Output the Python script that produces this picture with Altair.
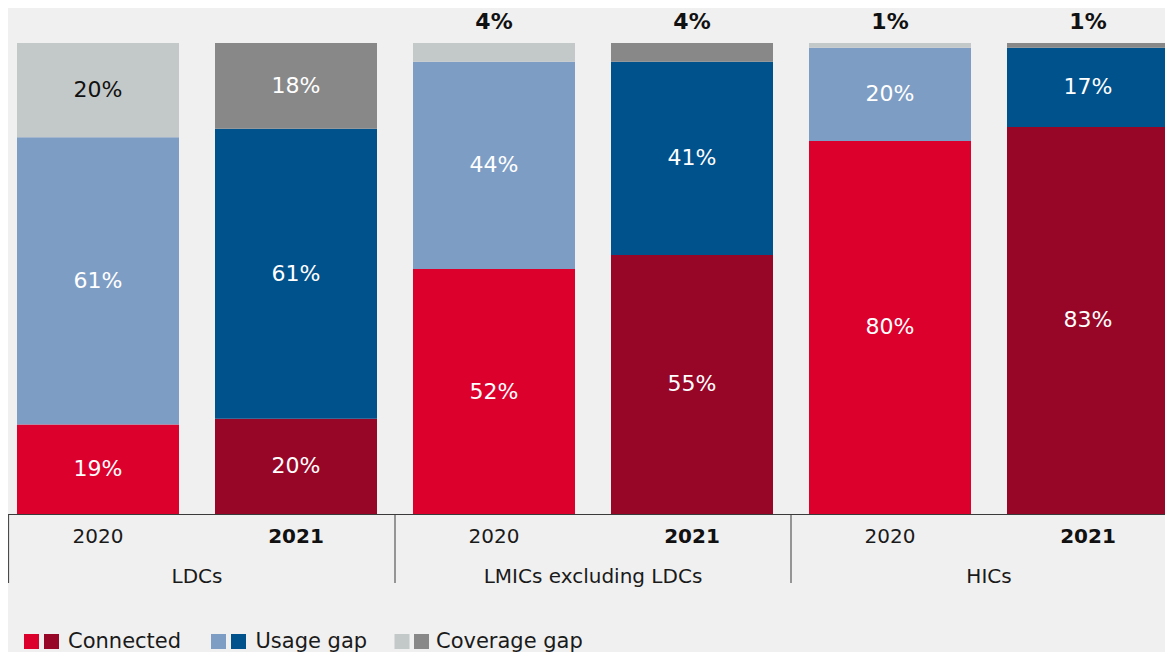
import altair as alt
import pandas as pd

# ---------------- data ----------------
groups = ["LDCs", "LDCs", "LMICs excluding LDCs", "LMICs excluding LDCs", "HICs", "HICs"]
years = ["2020", "2021", "2020", "2021", "2020", "2021"]
connected = [19, 20, 52, 55, 80, 83]
usage_gap = [61, 61, 44, 41, 20, 17]
coverage_gap = [20, 18, 4, 4, 1, 1]
segments = ["Connected", "Usage gap", "Coverage gap"]
colors_2020 = ["#dc002d", "#7e9dc4", "#c3c8c8"]
colors_2021 = ["#970627", "#00528c", "#888888"]

rows = []
for i, (g, yr) in enumerate(zip(groups, years)):
    for k, (seg, vals) in enumerate(zip(segments, [connected, usage_gap, coverage_gap])):
        rows.append(dict(idx=i, group=g, year=yr, segment=seg, order=k,
                         value=vals[i], key=f"{seg} {yr}"))
df = pd.DataFrame(rows)
bars_df = pd.DataFrame({"idx": list(range(len(groups))), "group": groups, "year": years})

color_domain = [f"{s} 2020" for s in segments] + [f"{s} 2021" for s in segments]
color_range = colors_2020 + colors_2021

# ---------------- layout ----------------
FONT = "DejaVu Sans"
STEP = 198.0          # px per bar slot
W = 1157
H = 471
HALF = 81 / STEP      # half bar width in slot units
x_min = -90 / STEP
x_max = x_min + W / STEP

xscale = alt.Scale(domain=[x_min, x_max], nice=False, zero=False)
xaxis = alt.Axis(domain=True, domainColor="#3a3a3a", domainWidth=1, ticks=False,
                 labels=False, grid=False, title=None)

base = (
    alt.Chart(df)
    .transform_stack(stack="value", groupby=["idx"], as_=["y0", "y1"],
                     sort=[alt.SortField("order")], offset="normalize")
    .transform_calculate(xa=f"datum.idx - {HALF}", xb=f"datum.idx + {HALF}",
                         mid="(datum.y0 + datum.y1) / 2", label="datum.value + '%'")
)

bars = base.mark_bar().encode(
    x=alt.X("xa:Q", scale=xscale, axis=xaxis),
    x2="xb:Q",
    y=alt.Y("y0:Q", scale=alt.Scale(domain=[0, 1], nice=False), axis=None),
    y2="y1:Q",
    color=alt.Color("key:N", scale=alt.Scale(domain=color_domain, range=color_range), legend=None),
)

inside = base.transform_filter("datum.value >= 10").mark_text(
    font=FONT, fontSize=22, baseline="middle", align="center"
).encode(
    x=alt.X("idx:Q", scale=xscale),
    y=alt.Y("mid:Q"),
    text="label:N",
    color=alt.condition("datum.key == 'Coverage gap 2020'", alt.value("#111111"), alt.value("#ffffff")),
)

above = base.transform_filter("datum.value < 10").mark_text(
    font=FONT, fontSize=22, fontWeight="bold", baseline="middle", align="center", dy=-21, color="#111111"
).encode(
    x=alt.X("idx:Q", scale=xscale),
    y=alt.Y("y1:Q"),
    text="label:N",
)

bar_base = alt.Chart(bars_df)
year_normal = bar_base.transform_filter("datum.year == '2020'").mark_text(
    font=FONT, fontSize=20, color="#1a1a1a", baseline="middle"
).encode(x=alt.X("idx:Q", scale=xscale), y=alt.value(H + 23), text="year:N")
year_bold = bar_base.transform_filter("datum.year == '2021'").mark_text(
    font=FONT, fontSize=20, fontWeight="bold", color="#111111", baseline="middle"
).encode(x=alt.X("idx:Q", scale=xscale), y=alt.value(H + 23), text="year:N")

group_labels = bar_base.transform_aggregate(center="mean(idx)", groupby=["group"]).mark_text(
    font=FONT, fontSize=20, color="#1a1a1a", baseline="middle"
).encode(x=alt.X("center:Q", scale=xscale), y=alt.value(H + 63), text="group:N")

dividers = bar_base.transform_aggregate(start="min(idx)", groupby=["group"]).transform_calculate(
    pos=f"max(datum.start - 0.5, {x_min} + 0.003)"
).mark_rule(color="#3a3a3a", strokeWidth=1).encode(
    x=alt.X("pos:Q", scale=xscale), y=alt.value(H), y2=alt.value(H + 69)
)

# ---------------- legend ----------------
leg_sq1 = [23.5, 210.5, 394.0]
leg_sq2 = [43.5, 230.5, 413.5]
leg_txt = [60.0, 247.5, 428.0]
leg_y = 598.5
legend_layers = []
for k, seg in enumerate(segments):
    d = pd.DataFrame({"label": [seg]})
    c = alt.Chart(d)
    legend_layers.append(c.mark_square(size=225, color=colors_2020[k], opacity=1).encode(
        x=alt.value(leg_sq1[k]), y=alt.value(leg_y)))
    legend_layers.append(c.mark_square(size=225, color=colors_2021[k], opacity=1).encode(
        x=alt.value(leg_sq2[k]), y=alt.value(leg_y)))
    legend_layers.append(c.mark_text(font=FONT, fontSize=21, color="#1a1a1a", align="left",
                                     baseline="middle").encode(
        x=alt.value(leg_txt[k]), y=alt.value(leg_y), text="label:N"))

chart = alt.layer(
    bars, inside, above, year_normal, year_bold, group_labels, dividers, *legend_layers
).properties(
    width=W, height=H, background="#f0f0f0",
    padding={"left": 0, "top": 35, "right": 0, "bottom": 138},
    autosize=alt.AutoSizeParams(type="none"),
).configure_view(stroke=None, clip=False).configure_text(font=FONT)

chart.save("out.html", embed_options={"renderer": "svg", "actions": False})
